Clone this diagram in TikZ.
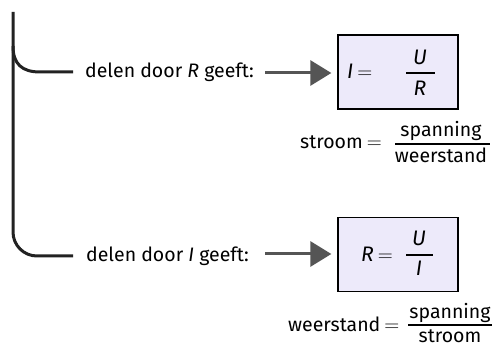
\documentclass[tikz,border=0pt]{standalone}
\usepackage{fontspec}
\setmainfont{Fira Sans}
\usetikzlibrary{arrows.meta}
\definecolor{boxfill}{HTML}{EDEAFA}
\definecolor{arrowgray}{HTML}{555555}
\definecolor{linegray}{HTML}{222222}
\newcommand{\wideeq}{\hspace{4pt}$=$}
\begin{document}
\begin{tikzpicture}[x=1pt,y=-1pt,
  txt/.style={inner sep=0pt, anchor=base west, font=\fontsize{19.5}{22}\selectfont},
  ctxt/.style={inner sep=0pt, anchor=base, font=\fontsize{19.5}{22}\selectfont},
  btxt/.style={inner sep=0pt, anchor=base west, font=\fontsize{21}{24}\selectfont},
  bctxt/.style={inner sep=0pt, anchor=base, font=\fontsize{21}{24}\selectfont},
  bracket/.style={draw=linegray, line width=3pt},
  arr/.style={draw=arrowgray, line width=3pt, shorten >=6pt,
    -{Triangle[length=21pt,width=25pt,fill=arrowgray]}},
  formbox/.style={draw=black, line width=1.3pt, fill=boxfill, minimum width=120pt, minimum height=74pt, inner sep=0pt},
  fracbar/.style={draw=black, line width=1.1pt}
]
\useasboundingbox (0,0) rectangle (493,347);
\fill[white] (0,0) rectangle (493,347);

% bracket
\coordinate (btop) at (13,12);
\coordinate (bend1) at (73,72);
\coordinate (bend2) at (73,256);
\coordinate (bsplit) at (13,46);
\draw[bracket, rounded corners=24pt] (btop) |- (bend2);
\draw[bracket] (bsplit) .. controls (13,64) and (22,72) .. (40,72) -- (bend1);

% texts
\node[txt] (t1) at (85,78) {delen door \textit{R} geeft:};
\node[txt] (t2) at (86,262) {delen door \textit{I} geeft:};

% boxes
\node[formbox] (box1) at (398,72) {};
\node[formbox] (box2) at (398,254.5) {};

% arrows
\coordinate (a1) at (265,73);
\coordinate (a2) at (265,254);
\draw[arr] (a1) -- (box1.west |- a1);
\draw[arr] (a2) -- (box2.west |- a2);

% box 1 content
\node[btxt] (i1) at (347,79) {\textit{I}\wideeq};
\node[bctxt] (u1) at (420,65) {\textit{U}};
\node[bctxt] (r1) at (420,96) {\textit{R}};
\coordinate (b1l) at (406,73);
\coordinate (b1r) at (435,73);
\draw[fracbar] (b1l) -- (b1r);

% box 2 content
\node[btxt] (r2) at (361,262) {\textit{R}\wideeq};
\node[bctxt] (u2) at (419,246) {\textit{U}};
\node[bctxt] (i2) at (419,276) {\textit{I}};
\coordinate (b2l) at (406,255);
\coordinate (b2r) at (433,255);
\draw[fracbar] (b2l) -- (b2r);

% word formula 1
\node[txt] (s1) at (300,149) {stroom\wideeq};
\node[ctxt] (sp1) at (441,137) {spanning};
\node[ctxt] (w1) at (441,163) {weerstand};
\coordinate (c1l) at (395,144);
\coordinate (c1r) at (490,144);
\draw[fracbar] (c1l) -- (c1r);

% word formula 2
\node[txt] (w2) at (288,332) {weerstand\wideeq};
\node[ctxt] (sp2) at (450,319) {spanning};
\node[ctxt] (st2) at (450,343) {stroom};
\coordinate (c2l) at (408,325);
\coordinate (c2r) at (492,325);
\draw[fracbar] (c2l) -- (c2r);
\end{tikzpicture}
\end{document}
